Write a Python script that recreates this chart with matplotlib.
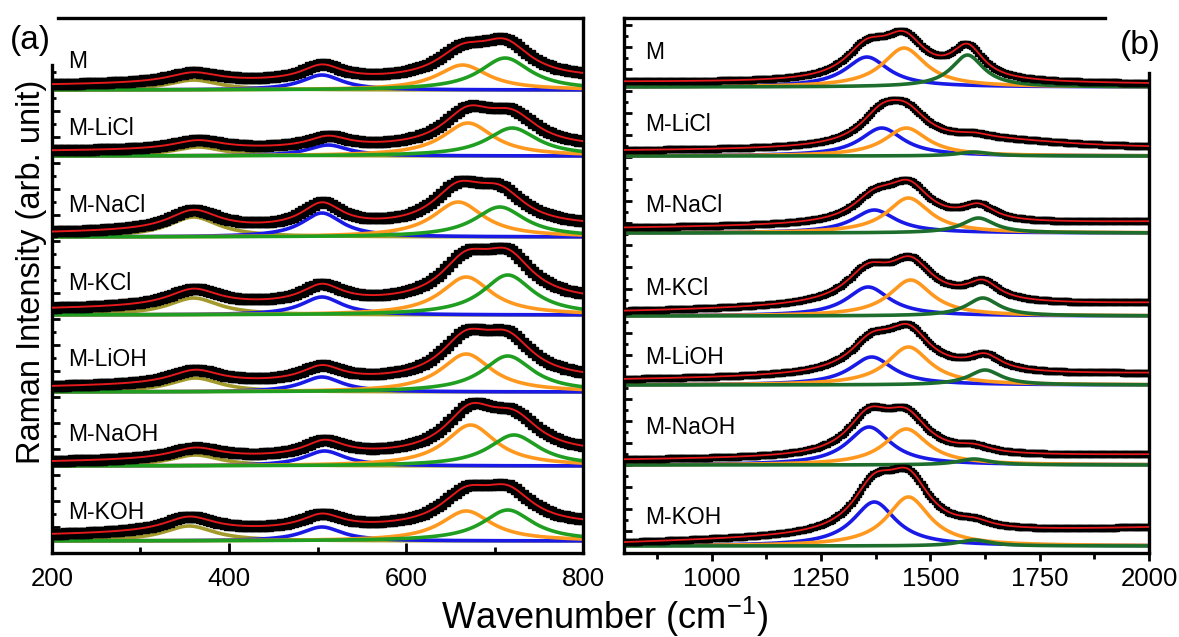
import numpy as np
import matplotlib
matplotlib.use('Agg')
import matplotlib.pyplot as plt

plt.rcParams['font.family'] = ['Liberation Sans', 'DejaVu Sans']
plt.rcParams['mathtext.fontset'] = 'custom'
plt.rcParams['mathtext.rm'] = 'Liberation Sans'
plt.rcParams['mathtext.it'] = 'Liberation Sans:italic'

SAMPLES = ["M", "M-LiCl", "M-NaCl", "M-KCl", "M-LiOH", "M-NaOH", "M-KOH"]

# ── (a) 200-800 cm-1 ─────────────────────────────────────────────────────────
A_OFFSET  = [463, 397, 316, 238, 161, 87, 12]      # vertical stacking offset
A_LABEL_Y = [492, 425, 348, 270, 193, 118, 40]
A_BG_LEFT  = [5, 5, 4, 6, 5, 4, 6]                 # linear background at 200
A_BG_RIGHT = [11, 8, 10, 13, 12, 12, 15]           # linear background at 800

A_OLIVE_POS = [360, 365, 360, 360, 362, 362, 355]
A_OLIVE_H   = [10, 9, 20, 17, 14, 11, 15]
A_BLUE_POS  = [505, 512, 505, 505, 505, 508, 505]
A_BLUE_H    = [15, 11, 24, 18, 15, 15, 14]
A_ORANGE_POS = [664, 670, 659, 668, 668, 673, 668]
A_ORANGE_H   = [25, 33, 35, 38, 38, 41, 30]
A_GREEN_POS  = [712, 720, 706, 715, 715, 722, 715]
A_GREEN_H    = [32, 28, 30, 40, 36, 31, 31]
A_HWHM = {'olive': 35, 'blue': 28, 'orange': 35, 'green': 35}

# ── (b) 800-2000 cm-1 ────────────────────────────────────────────────────────
B_OFFSET  = [466, 397, 320, 237, 168, 88, 7]
B_LABEL_Y = [501, 429, 348, 265, 195, 125, 35]
B_BG_LEFT  = [5, 5, 5, 4, 5, 5, 3]
B_BG_RIGHT = [3, 7, 11, 12, 11, 10, 18]
B_HUMP_POS = [1420, 1650, 1450, 1420, 1430, 1450, 1420]   # broad underlying band
B_HUMP_H   = [0, 8, 0, 6, 4, 0, 0]

B_BLUE_POS   = [1355, 1389, 1372, 1358, 1366, 1360, 1372]
B_BLUE_H     = [30, 28, 23, 29, 28, 38, 44]
B_ORANGE_POS = [1440, 1445, 1450, 1455, 1450, 1445, 1450]
B_ORANGE_H   = [39, 28, 35, 36, 38, 36, 49]
B_GREEN_POS  = [1585, 1600, 1610, 1620, 1625, 1600, 1600]
B_GREEN_H    = [32, 4, 15, 18, 15, 6, 6]
B_HWHM = {'blue': 60, 'orange': 60, 'green': 45, 'hump': 220}

RED = '#e3191c'
COLORS_A = {'olive': '#a39a2c', 'blue': '#1a1ae6', 'orange': '#ff981e', 'green': '#1f9e22'}
COLORS_B = {'blue': '#1a1ae6', 'orange': '#ff981e', 'green': '#1d6e2c'}


def lorentz(x, c, h, w):
    return h / (1.0 + ((x - c) / w) ** 2)


fig = plt.figure(figsize=(11.79, 6.37), dpi=100)
ax_a = fig.add_axes([0.0441, 0.1319, 0.4504, 0.8398])
ax_b = fig.add_axes([0.5293, 0.1319, 0.4453, 0.8398])

# ── panel (a) ────────────────────────────────────────────────────────────────
x = np.linspace(200, 800, 601)
xd = np.arange(200, 801, 4)
for i, name in enumerate(SAMPLES):
    off = A_OFFSET[i]
    peaks = [('olive', A_OLIVE_POS[i], A_OLIVE_H[i]),
             ('blue', A_BLUE_POS[i], A_BLUE_H[i]),
             ('orange', A_ORANGE_POS[i], A_ORANGE_H[i]),
             ('green', A_GREEN_POS[i], A_GREEN_H[i])]

    def total(xx):
        y = A_BG_LEFT[i] + (A_BG_RIGHT[i] - A_BG_LEFT[i]) * (xx - 200) / 600
        for key, c, h in peaks:
            y = y + lorentz(xx, c, h, A_HWHM[key])
        return off + y

    for key, c, h in peaks:
        ax_a.plot(x, off + lorentz(x, c, h, A_HWHM[key]), color=COLORS_A[key],
                  lw=2.6, zorder=2)
    ax_a.plot(xd, total(xd), 's', color='black', ms=7, zorder=3)
    ax_a.plot(x, total(x), color=RED, lw=1.4, zorder=4)
    ax_a.text(218, A_LABEL_Y[i], name, fontsize=16.5, va='center', ha='left')

ax_a.set_xlim(200, 800)
ax_a.set_ylim(0, 535)
ax_a.set_xticks([200, 400, 600, 800])
ax_a.set_xticks([300, 500, 700], minor=True)
ax_a.set_yticks(np.arange(0, 489, 26))
ax_a.set_yticks(np.arange(13, 489, 26), minor=True)
ax_a.tick_params(axis='x', which='major', direction='in', length=7, width=2,
                 labelsize=18.5, pad=10)
ax_a.tick_params(axis='x', which='minor', direction='in', length=4, width=2)
ax_a.tick_params(axis='y', which='major', direction='in', length=6, width=2,
                 labelleft=False)
ax_a.tick_params(axis='y', which='minor', direction='in', length=3, width=2)
for sp in ax_a.spines.values():
    sp.set_linewidth(2.4)
ax_a.spines['left'].set_bounds(0, 488)
ax_a.spines['top'].set_bounds(207, 800)

# ── panel (b) ────────────────────────────────────────────────────────────────
x = np.linspace(800, 2000, 1201)
xd = np.arange(800, 2001, 5)
for i, name in enumerate(SAMPLES):
    off = B_OFFSET[i]
    peaks = [('blue', B_BLUE_POS[i], B_BLUE_H[i]),
             ('orange', B_ORANGE_POS[i], B_ORANGE_H[i]),
             ('green', B_GREEN_POS[i], B_GREEN_H[i])]

    def total(xx):
        y = B_BG_LEFT[i] + (B_BG_RIGHT[i] - B_BG_LEFT[i]) * (xx - 800) / 1200
        y = y + lorentz(xx, B_HUMP_POS[i], B_HUMP_H[i], B_HWHM['hump'])
        for key, c, h in peaks:
            y = y + lorentz(xx, c, h, B_HWHM[key])
        return off + y

    for key, c, h in peaks:
        ax_b.plot(x, off + lorentz(x, c, h, B_HWHM[key]), color=COLORS_B[key],
                  lw=2.6, zorder=2)
    ax_b.plot(xd, total(xd), 's', color='black', ms=4.8, zorder=3)
    ax_b.plot(x, total(x), color=RED, lw=1.3, zorder=4)
    ax_b.text(848, B_LABEL_Y[i], name, fontsize=16.5, va='center', ha='left')

ax_b.set_xlim(800, 2000)
ax_b.set_ylim(0, 535)
ax_b.set_xticks([1000, 1250, 1500, 1750, 2000])
ax_b.set_xticks([875, 1125, 1375, 1625, 1875], minor=True)
ax_b.set_yticks(np.arange(0, 535, 22))
ax_b.set_yticks(np.arange(11, 535, 22), minor=True)
ax_b.tick_params(axis='x', which='major', direction='out', length=6, width=2,
                 labelsize=18.5, pad=4)
ax_b.tick_params(axis='x', which='minor', direction='out', length=4, width=2)
ax_b.tick_params(axis='y', which='major', direction='in', length=6, width=2,
                 labelleft=False)
ax_b.tick_params(axis='y', which='minor', direction='in', length=3, width=2)
for sp in ax_b.spines.values():
    sp.set_linewidth(2.4)
ax_b.spines['right'].set_bounds(0, 480)
ax_b.spines['top'].set_bounds(800, 1900)

# ── shared labels ────────────────────────────────────────────────────────────
fig.text(0.008, 0.937, "(a)", fontsize=24, va='center', ha='left')
fig.text(0.950, 0.929, "(b)", fontsize=24, va='center', ha='left')
fig.text(0.513, 0.032, "Wavenumber (cm$^{-1}$)", fontsize=26, va='center', ha='center')
fig.text(0.027, 0.573, "Raman Intensity (arb. unit)", fontsize=23.5, rotation=90,
         va='center', ha='center')

fig.savefig('out.png', dpi=100)
